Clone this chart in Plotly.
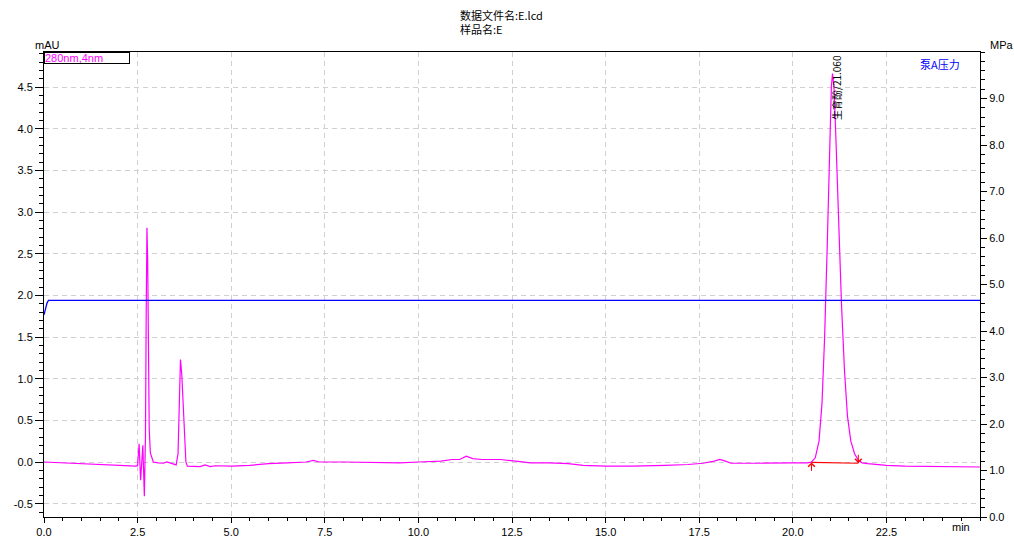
import plotly.graph_objects as go

# ---------------- data ----------------
uv_time = [0.0, 0.5, 1.0, 1.5, 2.0, 2.46, 2.50, 2.54, 2.58, 2.61, 2.64, 2.68,
           2.71, 2.73, 2.75, 2.77, 2.79, 2.81, 2.84, 2.92, 3.05, 3.19, 3.28, 3.41,
           3.53, 3.58, 3.61, 3.645, 3.68, 3.72, 3.76, 3.79, 3.83, 4.17, 4.30, 4.44,
           4.57, 4.8, 5.0, 5.5, 6.0, 6.5, 7.0, 7.2, 7.35, 8.0, 9.0, 9.5, 10.0, 10.6,
           10.9, 11.1, 11.28, 11.45, 11.7, 12.2, 12.6, 13.0, 13.5, 14.0, 14.4, 15.0,
           15.7, 16.2, 16.6, 17.2, 17.6, 17.9, 18.05, 18.2, 18.35, 19.1, 19.5, 20.0,
           20.4, 20.5, 20.6, 20.7, 20.78, 20.85, 20.92, 20.98, 21.03, 21.06, 21.10,
           21.15, 21.22, 21.30, 21.38, 21.46, 21.55, 21.65, 21.75, 21.85, 22.0, 22.5,
           23.0, 24.0, 25.0]
uv_mau = [0.0, -0.01, -0.02, -0.035, -0.04, -0.05, -0.04, 0.22, -0.22, 0.0, 0.2, -0.41,
          0.3, 1.8, 2.81, 2.4, 1.2, 0.4, 0.11, 0.0, -0.01, -0.015, 0.0, -0.015,
          -0.035, 0.1, 0.7, 1.23, 1.05, 0.7, 0.2, 0.0, -0.05, -0.055, -0.035, -0.055,
          -0.045, -0.05, -0.05, -0.04, -0.02, -0.01, 0.0, 0.02, 0.0, 0.0, -0.01, -0.01, 0.0, 0.01,
          0.03, 0.03, 0.07, 0.04, 0.03, 0.03, 0.01, -0.01, -0.01, -0.02, -0.04, -0.05,
          -0.05, -0.04, -0.04, -0.03, -0.015, 0.01, 0.03, 0.01, -0.015, -0.015, -0.01, -0.01,
          -0.01, 0.0, 0.05, 0.25, 0.7, 1.5, 2.6, 3.7, 4.5, 4.66, 4.5,
          3.9, 2.9, 1.9, 1.1, 0.55, 0.25, 0.1, 0.02, -0.01, -0.02, -0.04,
          -0.05, -0.055, -0.06]

press_time = [0.0, 0.03, 0.08, 0.12, 0.3, 5.0, 10.0, 15.0, 20.0, 25.0]
press_mpa = [4.35, 4.45, 4.6, 4.66, 4.66, 4.65, 4.65, 4.66, 4.66, 4.66]

peak_name = "生育酚"
peak_rt = 21.060
peak_start = (20.50, -0.005)
peak_end = (21.75, -0.015)

x_ticks = [0.0, 2.5, 5.0, 7.5, 10.0, 12.5, 15.0, 17.5, 20.0, 22.5]
y_ticks = [-0.5, 0.0, 0.5, 1.0, 1.5, 2.0, 2.5, 3.0, 3.5, 4.0, 4.5]
y2_ticks = [0.0, 1.0, 2.0, 3.0, 4.0, 5.0, 6.0, 7.0, 8.0, 9.0]

FONT = "Liberation Sans, Arial, Noto Sans CJK SC, sans-serif"
CJK = "Noto Sans CJK SC, Liberation Sans, sans-serif"
GRID = "#d0d0d0"

fig = go.Figure()
fig.add_trace(go.Scatter(x=press_time, y=press_mpa, yaxis="y2", mode="lines",
                         line=dict(color="#0000ff", width=1.3), showlegend=False))
fig.add_trace(go.Scatter(x=uv_time, y=uv_mau, mode="lines",
                         line=dict(color="#ff00ff", width=1.2), showlegend=False))
fig.add_trace(go.Scatter(x=[peak_start[0], peak_end[0]], y=[peak_start[1], peak_end[1]],
                         mode="lines", line=dict(color="#ff0000", width=1.2), showlegend=False))

fig.update_layout(
    width=1014, height=538,
    margin=dict(l=44, r=34, t=52, b=21),
    paper_bgcolor="white", plot_bgcolor="white",
    font=dict(family=FONT, size=11, color="black"),
    xaxis=dict(range=[0, 25], tickmode="array", tickvals=x_ticks,
               ticktext=[f"{v:.1f}" for v in x_ticks],
               showline=True, linecolor="black", linewidth=1, mirror=True,
               ticks="outside", ticklen=5, tickcolor="black",
               showgrid=True, gridcolor=GRID, griddash="5px,4px", gridwidth=1,
               minor=dict(tick0=0, dtick=0.5, ticks="outside", ticklen=3,
                          tickcolor="black", showgrid=False),
               zeroline=False, automargin=False),
    yaxis=dict(range=[-0.66, 4.92], tickmode="array", tickvals=y_ticks,
               ticktext=[f"{v:.1f}" for v in y_ticks],
               showline=True, linecolor="black", linewidth=1,
               ticks="outside", ticklen=8, tickcolor="black",
               showgrid=True, gridcolor=GRID, griddash="5px,4px", gridwidth=1,
               minor=dict(tick0=0, dtick=0.1, ticks="outside", ticklen=4,
                          tickcolor="black", showgrid=False),
               zeroline=False, automargin=False),
    yaxis2=dict(range=[0, 10], overlaying="y", side="right", tickmode="array",
                tickvals=y2_ticks, ticktext=[f"{v:.1f}" for v in y2_ticks],
                showline=True, linecolor="black", linewidth=1,
                ticks="outside", ticklen=6, tickcolor="black", showgrid=False,
                minor=dict(tick0=0, dtick=0.2, ticks="outside", ticklen=4,
                           tickcolor="black", showgrid=False),
                zeroline=False, automargin=False),
)

ann = []
# title
ann.append(dict(xref="paper", yref="paper", x=0.442, y=1.102, xanchor="left", yanchor="top",
                text="数据文件名:E.lcd<br>样品名:E", align="left", showarrow=False,
                font=dict(family=CJK, size=11, color="black")))
# axis unit labels
ann.append(dict(xref="paper", yref="paper", x=0, y=1.0, xanchor="center", yanchor="bottom",
                text="mAU", showarrow=False, yshift=-1, xshift=3, font=dict(size=11)))
ann.append(dict(xref="paper", yref="paper", x=1.0, y=1.0, xanchor="left", yanchor="bottom",
                text="MPa", showarrow=False, yshift=-1, xshift=8, font=dict(size=11)))
ann.append(dict(xref="x", yref="paper", x=24.5, y=0, xanchor="center", yanchor="top",
                text="min", showarrow=False, yshift=-2, font=dict(size=11)))
# channel labels
ann.append(dict(xref="paper", yref="paper", x=0, y=1.0, xanchor="left", yanchor="top",
                text="280nm,4nm", showarrow=False, align="left", width=84, height=10,
                bordercolor="black", borderwidth=1, borderpad=0,
                font=dict(size=11, color="#ff00ff")))
ann.append(dict(xref="paper", yref="paper", x=0.981, y=0.995, xanchor="right", yanchor="top",
                text="泵A压力", showarrow=False, font=dict(family=CJK, size=11, color="#0000ff")))
# peak label
ann.append(dict(xref="x", yref="y", x=peak_rt, y=4.08, xanchor="center", yanchor="bottom",
                text=f"{peak_name}/{peak_rt:.3f}", textangle=-90, showarrow=False, xshift=4,
                font=dict(family=CJK, size=10, color="black")))
# peak start / end markers
ann.append(dict(xref="x", yref="y", x=peak_start[0], y=peak_start[1], ax=0, ay=10,
                showarrow=True, arrowhead=4, arrowsize=1.3, arrowwidth=1, arrowcolor="#ff0000",
                text=""))
ann.append(dict(xref="x", yref="y", x=peak_end[0], y=peak_end[1], ax=0, ay=-10,
                showarrow=True, arrowhead=4, arrowsize=1.3, arrowwidth=1, arrowcolor="#ff0000",
                text=""))
fig.update_layout(annotations=ann)

fig.write_html("out.html", config={"displayModeBar": False})
with open("out.html", encoding="utf-8") as f:
    html = f.read()
html = html.replace("<head>", "<head><style>html,body{margin:0;padding:0;overflow:hidden;}</style>", 1)
with open("out.html", "w", encoding="utf-8") as f:
    f.write(html)
